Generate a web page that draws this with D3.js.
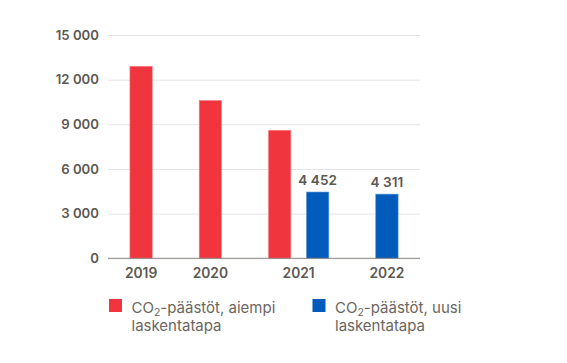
<!DOCTYPE html>
<html><head><meta charset="utf-8">
<script src="https://cdn.jsdelivr.net/npm/d3@7"></script>
<style>body{margin:0;background:#fff;font-family:Inter,"Noto Sans",sans-serif;}</style>
</head><body><svg id="c" width="567" height="363"></svg>
<script>
const categories = ["2019","2020","2021","2022"];
const seriesNames = ["CO₂-päästöt, aiempi laskentatapa","CO₂-päästöt, uusi laskentatapa"];
const oldMethod = [12900, 10600, 8600, null];
const newMethod = [null, null, 4452, 4311];
const yTicks = [0,3000,6000,9000,12000,15000];
const colors = ["#f0353f","#005bbb"];
const strokes = ["#f7868c","#5b95d6"];

(function(){
const svg = d3.select("#c");
const mLeft = 108, mRight = 420, mTop = 35, mBottom = 258.3;
const y = d3.scaleLinear().domain([0,15000]).range([mBottom, mTop]);
const fmt = v => d3.format(",")(v).replace(/,/g," ");

// layout units: bar=1, inner gap, group gap, edge pad
const BAR=1, INNER=0.7, GROUP=2.1, EDGE=0.98;
const bars = [], groups = [];
let pos = EDGE;
categories.forEach((c,i)=>{
  const present = [oldMethod[i], newMethod[i]].map((v,s)=>({v,s})).filter(d=>d.v!=null);
  const start = pos;
  present.forEach((d,k)=>{
    bars.push({cat:c, s:d.s, v:d.v, x0:pos});
    pos += BAR;
    if (k < present.length-1) pos += INNER;
  });
  groups.push({cat:c, center:(start+pos)/2});
  if (i < categories.length-1) pos += GROUP;
});
pos += EDGE;
const x = d3.scaleLinear().domain([0,pos]).range([mLeft,mRight]);

// grid
const yAxis = d3.axisLeft(y).tickValues(yTicks).tickSize(-(mRight-mLeft)).tickFormat(fmt);
const ga = svg.append("g").attr("transform",`translate(${mLeft},0)`).call(yAxis);
ga.select(".domain").remove();
ga.selectAll(".tick line").attr("stroke","#e4e4e4").attr("stroke-width",1);
ga.selectAll(".tick text").attr("x",-9).attr("fill","#5c5852")
  .style("font-family","Inter").style("font-size","13.2px").style("font-weight","600");

// bars
svg.append("g").selectAll("rect").data(bars).join("rect")
  .attr("x", d=>x(d.x0)).attr("width", d=>x(d.x0+BAR)-x(d.x0))
  .attr("y", d=>y(d.v)).attr("height", d=>y(0)-y(d.v))
  .attr("fill", d=>colors[d.s]).attr("stroke", d=>strokes[d.s]).attr("stroke-width",0.6);

// baseline
svg.append("line").attr("x1",mLeft).attr("x2",mRight).attr("y1",y(0)).attr("y2",y(0))
  .attr("stroke","#8a8782").attr("stroke-width",1);

// value labels for new method
svg.append("g").selectAll("text").data(bars.filter(d=>d.s===1)).join("text")
  .attr("x", d=>x(d.x0+BAR/2)).attr("y", d=>y(d.v)-7)
  .attr("text-anchor","middle").attr("fill","#5c5852")
  .style("font-size","13.6px").style("font-weight","600").text(d=>fmt(d.v));

// x labels
svg.append("g").selectAll("text").data(groups).join("text")
  .attr("x", d=>x(d.center)).attr("y", 277.5).attr("text-anchor","middle")
  .attr("fill","#5c5852").style("font-size","13.8px").style("font-weight","600").text(d=>d.cat);

// legend
const legX = [109, 312.5];
const leg = svg.append("g").selectAll("g").data(seriesNames).join("g")
  .attr("transform",(d,i)=>`translate(${legX[i]},299)`);
leg.append("rect").attr("width",13).attr("height",13).attr("fill",(d,i)=>colors[i]);
leg.each(function(d){
  const g = d3.select(this);
  const t = g.append("text").attr("x",22.5).attr("y",13.5).attr("fill","#6b6660")
    .style("font-size","15px");
  t.append("tspan").text("CO");
  t.append("tspan").attr("dy",3).style("font-size","10.5px").text("2");
  t.append("tspan").attr("dy",-3).text(d.replace("CO₂","").replace(" laskentatapa",""));
  g.append("text").attr("x",22.5).attr("y",32).attr("fill","#6b6660")
    .style("font-size","15px").text("laskentatapa");
});
})();
</script></body></html>
